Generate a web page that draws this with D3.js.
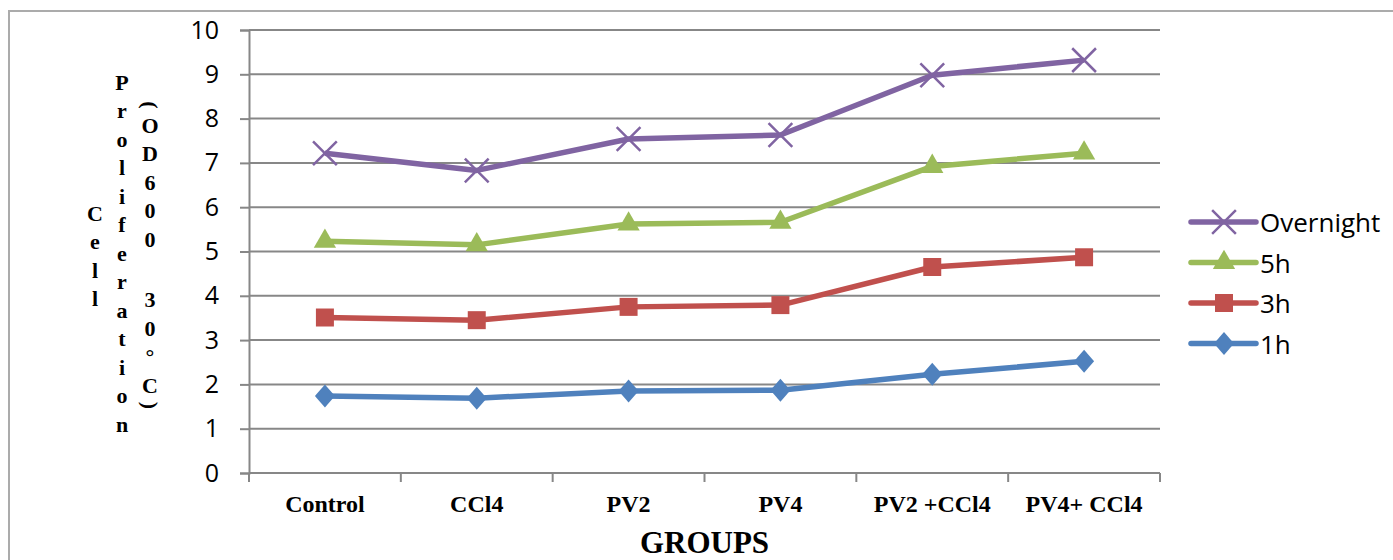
<!DOCTYPE html>
<html>
<head>
<meta charset="utf-8">
<script src="https://cdn.jsdelivr.net/npm/d3@7"></script>
<style>
  body { margin: 0; background: #fff; }
  svg { display: block; }
</style>
</head>
<body>
<div id="chart"></div>
<script>
// data
var groups = ["Control", "CCl4", "PV2", "PV4", "PV2 +CCl4", "PV4+ CCl4"];
var seriesNames = ["1h", "3h", "5h", "Overnight"];
var values1h = [1.74, 1.69, 1.85, 1.87, 2.23, 2.52];
var values3h = [3.51, 3.45, 3.75, 3.79, 4.65, 4.87];
var values5h = [5.23, 5.15, 5.62, 5.66, 6.92, 7.22];
var valuesOvernight = [7.22, 6.83, 7.54, 7.63, 8.98, 9.32];
var yTicks = [0, 1, 2, 3, 4, 5, 6, 7, 8, 9, 10];

var width = 1393, height = 560;
var margin = { top: 30, right: 233, bottom: 87, left: 249 };

var colors = {
	"1h": "#4F81BD",
	"3h": "#C0504D",
	"5h": "#9BBB59",
	"Overnight": "#8064A2"
};

// diamond a bit taller than wide, like the office one
var diamondType = {
	draw: function(ctx, size) {
		var w = 10, h = 11.5;
		ctx.moveTo(0, -h);
		ctx.lineTo(w, 0);
		ctx.lineTo(0, h);
		ctx.lineTo(-w, 0);
		ctx.closePath();
	}
};
var markers = {
	"1h": { type: diamondType, size: 100, fill: true },
	"3h": { type: d3.symbolSquare, size: 324, fill: true },
	"5h": { type: d3.symbolTriangle, size: 215, fill: true },
	"Overnight": { type: d3.symbolTimes, size: 370, fill: false }
};

var seriesValues = {
	"1h": values1h,
	"3h": values3h,
	"5h": values5h,
	"Overnight": valuesOvernight
};

var svg = d3.select("#chart")
	.append("svg")
		.attr("width", width)
		.attr("height", height);

// outer chart border (runs off the right and bottom of the picture)
svg.append("rect")
	.attr("x", 9).attr("y", 11)
	.attr("width", 1500).attr("height", 700)
	.attr("fill", "none")
	.attr("stroke", "#ababab")
	.attr("stroke-width", 2);

var x = d3.scaleBand()
	.domain(groups)
	.range([margin.left, width - margin.right])
	.padding(0);

var y = d3.scaleLinear()
	.domain([0, 10])
	.range([height - margin.bottom, margin.top]);

// gridlines
svg.append("g")
	.selectAll("line")
	.data(yTicks.filter(function(d) { return d > 0; }))
	.enter()
	.append("line")
		.attr("x1", margin.left)
		.attr("x2", width - margin.right)
		.attr("y1", function(d) { return y(d); })
		.attr("y2", function(d) { return y(d); })
		.attr("stroke", "#878787")
		.attr("stroke-width", 2);

// y axis
var yAxis = svg.append("g")
	.attr("transform", "translate(" + margin.left + ",0)")
	.call(d3.axisLeft(y).tickValues(yTicks).tickSize(9).tickPadding(21).tickFormat(d3.format("d")));
yAxis.select(".domain").attr("stroke", "#878787").attr("stroke-width", 2);
yAxis.selectAll(".tick line").attr("stroke", "#878787").attr("stroke-width", 2);
yAxis.selectAll(".tick text")
	.attr("fill", "#000")
	.style("font-family", "'Open Sans', sans-serif")
	.style("font-size", "25px");

// x axis: ticks between the categories
var xAxis = svg.append("g")
	.attr("transform", "translate(0," + y(0) + ")");
xAxis.append("line")
	.attr("x1", margin.left).attr("x2", width - margin.right)
	.attr("stroke", "#878787").attr("stroke-width", 2);
var bounds = groups.map(function(g) { return x(g); }).concat([x(groups[groups.length - 1]) + x.bandwidth()]);
xAxis.selectAll(".xt")
	.data(bounds)
	.enter()
	.append("line")
		.attr("x1", function(d) { return d; })
		.attr("x2", function(d) { return d; })
		.attr("y1", 0).attr("y2", 9)
		.attr("stroke", "#878787").attr("stroke-width", 2);
xAxis.selectAll(".xl")
	.data(groups)
	.enter()
	.append("text")
		.attr("x", function(d) { return x(d) + x.bandwidth() / 2; })
		.attr("y", 39)
		.attr("text-anchor", "middle")
		.style("font-family", "'Liberation Serif', 'Times New Roman', serif")
		.style("font-weight", "bold")
		.style("font-size", "24px")
		.text(function(d) { return d; });

// x axis title
svg.append("text")
	.attr("x", (margin.left + width - margin.right) / 2)
	.attr("y", 553)
	.attr("text-anchor", "middle")
	.style("font-family", "'Liberation Serif', 'Times New Roman', serif")
	.style("font-weight", "bold")
	.style("font-size", "31px")
	.text("GROUPS");

// y axis title, stacked letter by letter in three columns
var titleCols = [
	{ text: "Cell", x: 95, y0: 213 },
	{ text: "Proliferation", x: 122, y0: 82 },
	{ text: "(OD600 30°C)", x: 150, y0: 105 }
];
function advance(c) {
	if (c === "(" || c === ")") return 12;
	if (c === " ") return 32;
	return 28.5;
}
titleCols.forEach(function(col) {
	var chars = col.text.split("");
	var pos = [];
	var cy = col.y0;
	chars.forEach(function(c, i) {
		if (i > 0) cy += (advance(chars[i - 1]) + advance(c)) / 2;
		pos.push(cy);
	});
	svg.append("g")
		.selectAll("text")
		.data(chars.map(function(c, i) { return { c: c, y: pos[i] }; }).filter(function(d) { return d.c !== " "; }))
		.enter()
		.append("text")
			.attr("x", col.x)
			.attr("y", function(d) { return d.y; })
			.attr("text-anchor", "middle")
			.attr("dominant-baseline", "central")
			.attr("transform", function(d) {
				return (d.c === "(" || d.c === ")") ? "rotate(90," + col.x + "," + d.y + ")" : null;
			})
			.style("font-family", "'Liberation Serif', 'Times New Roman', serif")
			.style("font-weight", "bold")
			.style("font-size", "22px")
			.text(function(d) { return d.c; });
});

// lines and markers
var line = d3.line()
	.x(function(d, i) { return x(groups[i]) + x.bandwidth() / 2; })
	.y(function(d) { return y(d); });

function drawMarker(sel, name) {
	var m = markers[name];
	sel.attr("d", d3.symbol().type(m.type).size(m.size)())
		.attr("fill", m.fill ? colors[name] : "none")
		.attr("stroke", colors[name])
		.attr("stroke-width", m.fill ? 0 : 2.5);
}

seriesNames.forEach(function(name) {
	var vals = seriesValues[name];
	var g = svg.append("g");
	g.append("path")
		.datum(vals)
		.attr("d", line)
		.attr("fill", "none")
		.attr("stroke", colors[name])
		.attr("stroke-width", 5.5)
		.attr("stroke-linejoin", "round");
	g.selectAll(".mk")
		.data(vals)
		.enter()
		.append("path")
			.attr("transform", function(d, i) {
				return "translate(" + (x(groups[i]) + x.bandwidth() / 2) + "," + y(d) + ")";
			})
			.call(drawMarker, name);
});

// legend
var legend = svg.append("g");
var legendOrder = seriesNames.slice().reverse();
legendOrder.forEach(function(name, i) {
	var ly = 222 + i * 40.5;
	legend.append("line")
		.attr("x1", 1191).attr("x2", 1256)
		.attr("y1", ly).attr("y2", ly)
		.attr("stroke", colors[name])
		.attr("stroke-width", 5.5)
		.attr("stroke-linecap", "round");
	legend.append("path")
		.attr("transform", "translate(1224," + ly + ")")
		.call(drawMarker, name);
	legend.append("text")
		.attr("x", 1260)
		.attr("y", ly)
		.attr("dominant-baseline", "central")
		.style("font-family", "'Open Sans', sans-serif")
		.style("font-size", "26px")
		.text(name);
});
</script>
</body>
</html>
